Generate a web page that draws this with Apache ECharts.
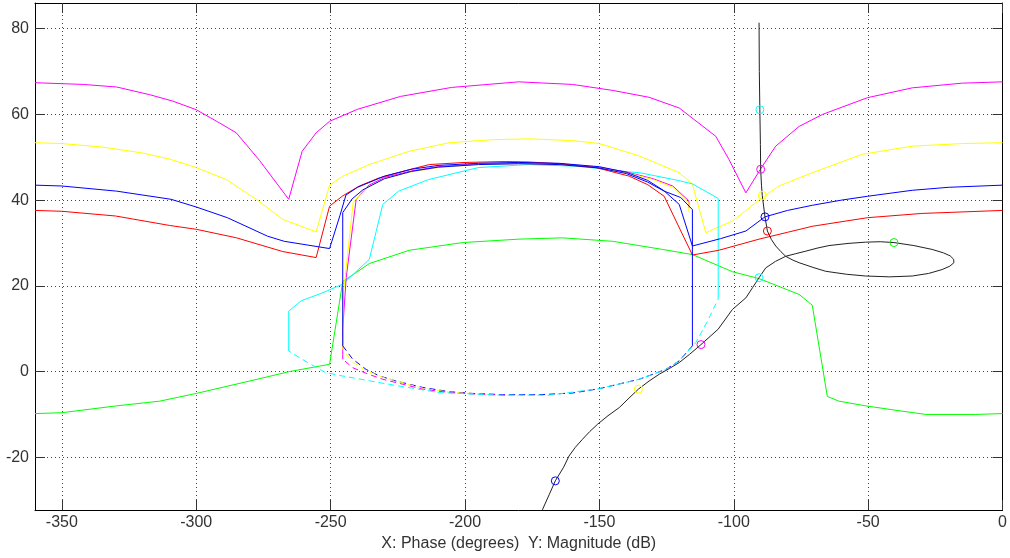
<!DOCTYPE html>
<html>
<head>
<meta charset="utf-8">
<script src="https://cdn.jsdelivr.net/npm/echarts@6/dist/echarts.min.js"></script>
<style>
  html, body { margin: 0; padding: 0; background: #fff; }
  #chart { width: 1010px; height: 558px; }
</style>
</head>
<body>
<div id="chart"></div>
<script>
// Nichols plot: QFT bounds (coloured) and open-loop response (black), [phase deg, magnitude dB]
const xTicks = [-350, -300, -250, -200, -150, -100, -50, 0];
const yTicks = [-20, 0, 20, 40, 60, 80];

const magentaOuter = [[-360,67.4],[-342,67.0],[-329.6,66.4],[-317.3,64.6],[-308.7,63.1],[-300,61.1],[-291.3,58.0],[-285.1,55.7],[-276.5,49.3],[-265.6,40.2],[-260.6,51.4],[-255.4,55.7],[-250.4,58.4],[-240,61.2],[-224,64.2],[-205,66.3],[-180,67.6],[-160,67.0],[-145,65.6],[-131.5,64.0],[-120.3,61.5],[-106.7,54.9],[-101.8,49.5],[-95.5,41.7],[-90,47.3],[-84.4,52.6],[-75.7,57.2],[-67,60.0],[-50.3,63.9],[-33.6,66.2],[-15,67.3],[0,67.6]];
const magentaInner = [[-245.5,2.9],[-245.5,10],[-244.2,22],[-240.5,40.2],[-236,43.4],[-230,45.3],[-220,46.8],[-210,47.8],[-195,48.4],[-180,48.6],[-165,48.4],[-150,47.6],[-140,46.6],[-130,45.0],[-122.7,43.3],[-116.7,39.8],[-116.7,38.2]];
const magentaLower = [[-245.5,2.9],[-241.8,0.9],[-236,-0.6],[-230.6,-1.8],[-215.8,-4.1],[-205.8,-4.9],[-195,-5.3],[-185,-5.5]];

const yellowOuter = [[-360,53.4],[-350,53.2],[-335,52.4],[-320,51.0],[-310,49.6],[-300,47.6],[-288.8,44.8],[-277.7,40.2],[-267.8,35.5],[-255.4,32.6],[-250.4,43.5],[-245.5,45.6],[-235.6,48.3],[-220.8,51.4],[-205.8,53.4],[-190,54.1],[-176,54.3],[-160,53.9],[-150,53.2],[-135.1,50.3],[-120.3,46.4],[-115.4,43.7],[-110.4,32.4],[-100.3,35.2],[-89.4,40.6],[-83.2,43.3],[-70.8,46.4],[-52.2,50.7],[-33.6,52.6],[-15,53.2],[0,53.4]];
const yellowInner = [[-245.5,5.2],[-245.3,18],[-241.6,39.5],[-237,42.8],[-230,45.0],[-220,46.6],[-210,47.6],[-195,48.3],[-180,48.5],[-165,48.3],[-150,47.5],[-140,46.4],[-130,44.8],[-122.7,43.0],[-116.7,39.3],[-116.7,37.2]];
const yellowLower = [[-245.5,5.2],[-241.8,2.2],[-236.8,0.2],[-230.6,-1.3],[-215.8,-3.9],[-205.8,-4.8],[-190,-5.4]];

const redOuter = [[-360,37.6],[-350,37.4],[-330,36.3],[-310,34.1],[-300,33.2],[-285,31.2],[-267.8,28.0],[-255.4,26.6],[-250.4,38.6],[-245.5,41.0],[-239.3,43.3],[-231.9,45.2],[-220.8,47.1],[-213.3,48.3],[-200,48.8],[-185,49.0],[-176,48.9],[-165,48.5],[-151.3,47.6],[-138.9,45.6],[-132,43.6],[-125.9,40.9],[-115.4,27.2],[-105.6,28.3],[-90.6,30.9],[-80,32.5],[-70.8,33.9],[-50.3,35.9],[-30,36.9],[0,37.6]];

const blueOuter = [[-360,43.5],[-350,43.3],[-329.6,42.1],[-309.4,40.2],[-300,38.4],[-288.4,35.9],[-273.5,31.6],[-267.3,30.4],[-250.4,28.7],[-246.5,36.5],[-244.3,41.2],[-240,43.0],[-230,45.6],[-220,47.2],[-210,48.1],[-195,48.6],[-180,48.8],[-165,48.6],[-150,47.8],[-140,46.5],[-132,44.6],[-126,42.2],[-120.3,39.0],[-115.4,29.3],[-105,31.0],[-95.5,32.8],[-88.4,36.1],[-80,37.6],[-70.8,38.8],[-60,40.0],[-50.3,40.9],[-33.6,42.3],[-20,43.0],[0,43.5]];
const blueInner = [[-245.5,6.0],[-245.5,37.1],[-242,40.3],[-238,42.4],[-230,45.0],[-220,46.7],[-210,47.7],[-195,48.3],[-180,48.5],[-165,48.3],[-150,47.5],[-140,46.2],[-132,44.2],[-125.9,42.1],[-119.7,40.6],[-115.4,37.8],[-115.4,6.0]];
const blueLower = [[-245.5,6.0],[-241.8,2.9],[-236.8,0.5],[-231.9,-1.0],[-225.7,-2.2],[-215.8,-3.7],[-205.8,-4.7],[-197.2,-5.1],[-185,-5.4],[-172.4,-5.4],[-160,-5.0],[-150.1,-4.0],[-135.2,-1.8],[-125.3,0.5],[-120.3,2.5],[-115.4,6.0]];

const cyanUpper = [[-265.6,4.8],[-265.6,14.1],[-261,16.5],[-253.3,18.3],[-245.5,20.4],[-235.6,26.2],[-230.6,39.0],[-224.7,42.1],[-213.6,44.8],[-195,47.6],[-176.4,48.3],[-157.8,47.9],[-139.3,46.6],[-135,46.4],[-120.7,44.6],[-115.4,43.8],[-105.8,40.4],[-105.8,16.9]];
const cyanLower = [[-105.8,16.9],[-110,11.5],[-114.1,6.8],[-120.3,2.5],[-125.3,0.5],[-135.2,-1.8],[-150.1,-4.0],[-168.7,-5.5],[-187.3,-5.5],[-209.6,-4.9],[-228.1,-3.0],[-246.7,-0.9],[-252,-0.2],[-260.7,2.9],[-265.6,4.8]];

const greenBound = [[-360,-9.8],[-350,-9.6],[-329.6,-8.0],[-313.6,-6.9],[-300,-5.1],[-280.1,-2.2],[-265.3,0],[-250.4,1.7],[-245.5,21.0],[-235.6,25.2],[-220.8,28.3],[-200.9,30.1],[-180,30.9],[-163.7,31.2],[-145.1,30.4],[-126.5,28.5],[-115.4,27.3],[-100.5,23.3],[-90.6,21.7],[-75.7,18.0],[-70.8,15.5],[-65.2,-5.8],[-60.9,-6.9],[-50.9,-8.0],[-40,-9.0],[-28.6,-10.0],[-10,-10.0],[0,-9.8]];

const openLoop = [[-90.6,81.4],[-90.5,70],[-90.3,61.1],[-90.1,53],[-90.0,47.2],[-89.7,43.5],[-89.4,41.1],[-88.4,36.1],[-87.5,32.8],[-86,30.8],[-84.4,29.3],[-82.5,28.0],[-80.7,26.9],[-78,26.0],[-75.7,25.4],[-70.5,24.3],[-65.8,23.4],[-58,22.7],[-50.9,22.3],[-42,22.1],[-33.6,22.3],[-27.5,22.9],[-22.5,23.8],[-19.6,24.6],[-18.1,25.4],[-18.2,26.2],[-19.5,27.0],[-22,27.7],[-26.2,28.5],[-33,29.4],[-40.4,30.1],[-45.5,30.3],[-50.9,30.2],[-57.5,29.9],[-64.6,29.4],[-69,28.8],[-73.2,28.1],[-77,27.5],[-80.7,26.9],[-84.5,25.7],[-88.1,24.2],[-90.6,21.9],[-93,19.6],[-95.5,17.2],[-100.5,14.5],[-105.8,9.9],[-112.2,6.3],[-116.5,4.0],[-120.3,2.1],[-124,0.7],[-127.7,-0.6],[-131.5,-2.2],[-135.5,-4.1],[-139,-6.2],[-142.6,-8.4],[-146.8,-10.3],[-150.7,-12.3],[-153.6,-14.0],[-156.3,-15.8],[-159,-17.7],[-161.3,-19.7],[-163.3,-22.3],[-166.4,-25.5],[-168.6,-28.6],[-171.1,-32.1],[-172,-34]];

// design-frequency points on the open-loop curve, one colour per bound
const freqColors = ['#00ffff','#ff00ff','#ffff00','#0000ff','#ff0000','#00ff00','#00ffff','#ff00ff','#ffff00','#0000ff'];
const freqPoints = [[-90.3,61.1],[-90.0,47.2],[-89.4,41.1],[-88.4,36.1],[-87.5,32.8],[-40.4,30.1],[-90.6,21.9],[-112.2,6.3],[-135.5,-4.1],[-166.4,-25.5]];

function line(data, color, dash, offset) {
  const style = { color: color, width: 1, type: dash || 'solid' };
  if (dash) style.dashOffset = offset || 0;
  return {
    type: 'line', data: data, symbol: 'none', silent: true, animation: false,
    sampling: null, lineStyle: style, z: 2
  };
}

const frame = { show: true, onZero: false, lineStyle: { color: '#000', width: 1 } };
const labelFont = { color: '#333', fontFamily: 'Liberation Sans, Arial, sans-serif', fontSize: 16 };
const tickStyle = { show: true, inside: true, length: 10, lineStyle: { color: '#333' } };

const chart = echarts.init(document.getElementById('chart'), null, { renderer: 'canvas' });
chart.setOption({
  backgroundColor: '#fff',
  animation: false,
  grid: { left: 35, right: 6, top: 3, bottom: 48, containLabel: false },
  xAxis: [
    {
      type: 'value', min: -360, max: 0, position: 'bottom',
      axisLine: frame,
      axisTick: Object.assign({ customValues: xTicks }, tickStyle),
      axisLabel: Object.assign({ margin: 5, customValues: xTicks }, labelFont),
      splitLine: { show: true, lineStyle: { color: '#444', width: 1, type: [1, 3] } },
      name: 'X: Phase (degrees)  Y: Magnitude (dB)',
      nameLocation: 'middle', nameGap: 25,
      nameTextStyle: labelFont
    },
    {
      type: 'value', min: -360, max: 0, position: 'top',
      axisLine: frame,
      axisTick: Object.assign({ customValues: xTicks }, tickStyle),
      axisLabel: { show: false },
      splitLine: { show: false }
    }
  ],
  yAxis: [
    {
      type: 'value', min: -32.3, max: 86, position: 'left',
      axisLine: frame,
      axisTick: Object.assign({ customValues: yTicks }, tickStyle),
      axisLabel: Object.assign({ margin: 6, customValues: yTicks }, labelFont),
      splitLine: { show: true, lineStyle: { color: '#444', width: 1, type: [1, 3] } }
    },
    {
      type: 'value', min: -32.3, max: 86, position: 'right',
      axisLine: frame,
      axisTick: Object.assign({ customValues: yTicks }, tickStyle),
      axisLabel: { show: false },
      splitLine: { show: false }
    }
  ],
  series: [
    line(greenBound, '#00ff00'),
    line(magentaOuter, '#ff00ff'),
    line(yellowOuter, '#ffff00'),
    line(cyanUpper, '#00ffff'),
    line(magentaInner, '#ff00ff'),
    line(yellowInner, '#ffff00'),
    line(redOuter, '#ff0000'),
    line(blueOuter, '#0000ff'),
    line(blueInner, '#0000ff'),
    line(blueLower, '#0000ff', [6, 4], 0),
    line(yellowLower, '#ffff00', [6, 4], 4),
    line(magentaLower, '#ff00ff', [6, 4], 7),
    line(cyanLower, '#00ffff', [6, 4], 5),
    Object.assign(line(openLoop, '#222'), { z: 3 }),
    {
      type: 'scatter', silent: true, animation: false, z: 4,
      symbol: 'circle', symbolSize: 8,
      data: freqPoints.map(function (p, i) {
        return { value: p, itemStyle: { color: 'rgba(0,0,0,0)', borderColor: freqColors[i], borderWidth: 1, opacity: 1 } };
      })
    }
  ]
});
</script>
</body>
</html>
